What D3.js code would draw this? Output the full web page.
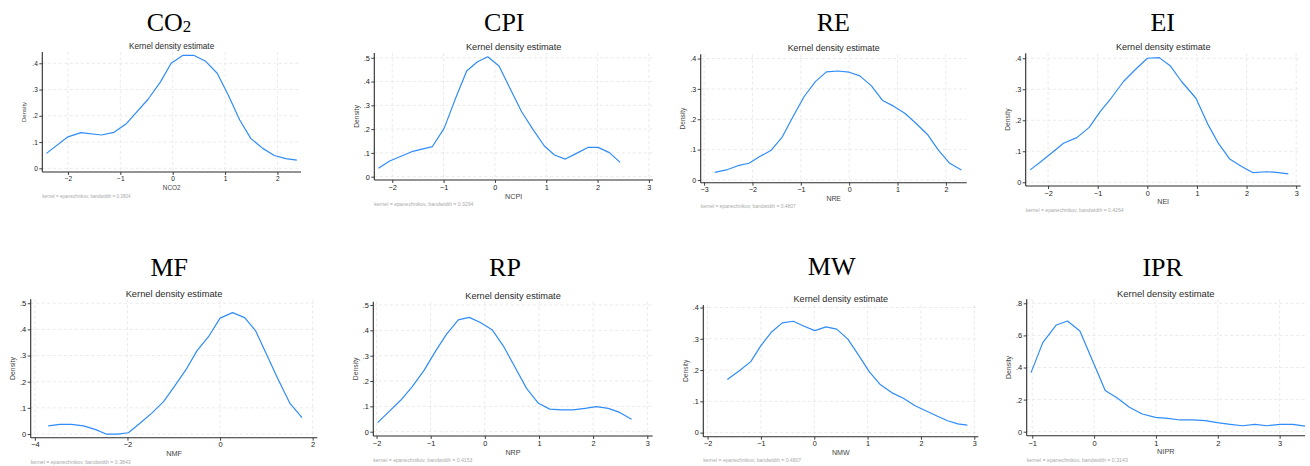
<!DOCTYPE html>
<html>
<head>
<meta charset="utf-8">
<script src="https://cdn.jsdelivr.net/npm/d3@7"></script>
<style>
  body { margin: 0; background: #fff; }
  svg { display: block; }
</style>
</head>
<body>
<div id="vis"></div>
<script>
const width = 1310;
const height = 466;

// panel names, variable names, kernel bandwidths
const titles = ["CO2", "CPI", "RE", "EI", "MF", "RP", "MW", "IPR"];
const varNames = ["NCO2", "NCPI", "NRE", "NEI", "NMF", "NRP", "NMW", "NIPR"];
const bandwidths = ["0.3824", "0.3294", "0.4807", "0.4264", "0.3843", "0.4153", "0.4807", "0.3143"];

// tick values
const xTicks = [
  [-2, -1, 0, 1, 2],
  [-2, -1, 0, 1, 2, 3],
  [-3, -2, -1, 0, 1, 2],
  [-2, -1, 0, 1, 2, 3],
  [-4, -2, 0, 2],
  [-2, -1, 0, 1, 2, 3],
  [-2, -1, 0, 1, 2, 3],
  [-1, 0, 1, 2, 3]
];
const yTicks = [
  [0, .1, .2, .3, .4],
  [0, .1, .2, .3, .4, .5],
  [0, .1, .2, .3, .4],
  [0, .1, .2, .3, .4],
  [0, .1, .2, .3, .4, .5],
  [0, .1, .2, .3, .4, .5],
  [0, .1, .2, .3, .4],
  [0, .2, .4, .6, .8]
];

// density estimates
const co2X = [-2.41, -2.0, -1.75, -1.36, -1.12, -0.88, -0.47, -0.23, -0.03, 0.19, 0.41, 0.62, 0.85, 1.06, 1.28, 1.49, 1.72, 1.94, 2.16, 2.37];
const co2Y = [0.057, 0.12, 0.136, 0.127, 0.137, 0.171, 0.263, 0.33, 0.40, 0.43, 0.43, 0.409, 0.362, 0.279, 0.184, 0.114, 0.076, 0.049, 0.037, 0.031];

const cpiX = [-2.27, -2.05, -1.62, -1.22, -0.99, -0.78, -0.55, -0.34, -0.14, 0.08, 0.31, 0.52, 0.75, 0.96, 1.16, 1.37, 1.59, 1.81, 2.01, 2.23, 2.44];
const cpiY = [0.035, 0.066, 0.105, 0.126, 0.203, 0.322, 0.444, 0.483, 0.504, 0.465, 0.364, 0.273, 0.196, 0.130, 0.091, 0.074, 0.098, 0.123, 0.123, 0.101, 0.060];

const reX = [-2.78, -2.54, -2.30, -2.07, -1.85, -1.62, -1.39, -1.16, -0.93, -0.70, -0.47, -0.23, 0.0, 0.22, 0.46, 0.69, 0.91, 1.15, 1.38, 1.63, 1.84, 2.08, 2.32];
const reY = [0.025, 0.033, 0.047, 0.055, 0.077, 0.097, 0.140, 0.209, 0.275, 0.324, 0.356, 0.359, 0.355, 0.343, 0.310, 0.262, 0.244, 0.220, 0.187, 0.148, 0.099, 0.055, 0.033];

const eiX = [-2.36, -2.14, -1.91, -1.69, -1.42, -1.17, -0.95, -0.73, -0.48, -0.25, 0.0, 0.24, 0.46, 0.69, 0.98, 1.21, 1.43, 1.66, 1.90, 2.13, 2.40, 2.60, 2.84];
const eiY = [0.040, 0.067, 0.097, 0.126, 0.144, 0.177, 0.228, 0.271, 0.325, 0.362, 0.400, 0.402, 0.376, 0.325, 0.271, 0.190, 0.126, 0.075, 0.051, 0.031, 0.034, 0.032, 0.027];

const mfX = [-3.71, -3.46, -3.21, -2.95, -2.70, -2.46, -2.22, -1.98, -1.73, -1.48, -1.22, -0.99, -0.74, -0.50, -0.25, 0.0, 0.27, 0.53, 0.77, 1.01, 1.26, 1.51, 1.77];
const mfY = [0.031, 0.037, 0.037, 0.031, 0.018, 0.0, 0.0, 0.005, 0.041, 0.079, 0.124, 0.181, 0.245, 0.318, 0.372, 0.443, 0.464, 0.445, 0.394, 0.302, 0.207, 0.117, 0.063];

const rpX = [-1.98, -1.77, -1.55, -1.34, -1.12, -0.91, -0.71, -0.49, -0.29, -0.09, 0.14, 0.34, 0.55, 0.77, 0.99, 1.20, 1.42, 1.63, 1.85, 2.06, 2.28, 2.49, 2.71];
const rpY = [0.036, 0.079, 0.125, 0.178, 0.243, 0.318, 0.384, 0.441, 0.451, 0.432, 0.401, 0.339, 0.257, 0.171, 0.112, 0.089, 0.086, 0.086, 0.092, 0.099, 0.092, 0.076, 0.049];

const mwX = [-1.63, -1.41, -1.19, -1.0, -0.81, -0.60, -0.39, -0.19, 0.01, 0.22, 0.42, 0.63, 0.83, 1.03, 1.23, 1.45, 1.67, 1.89, 2.09, 2.29, 2.50, 2.69, 2.87];
const mwY = [0.170, 0.197, 0.227, 0.278, 0.320, 0.351, 0.356, 0.340, 0.326, 0.338, 0.331, 0.299, 0.248, 0.195, 0.155, 0.128, 0.110, 0.086, 0.070, 0.054, 0.038, 0.028, 0.024];

const iprX = [-1.02, -0.83, -0.61, -0.43, -0.23, -0.02, 0.18, 0.38, 0.57, 0.78, 0.99, 1.19, 1.39, 1.59, 1.80, 1.99, 2.20, 2.40, 2.60, 2.80, 3.01, 3.21, 3.41];
const iprY = [0.368, 0.555, 0.665, 0.690, 0.628, 0.437, 0.256, 0.208, 0.152, 0.110, 0.089, 0.083, 0.073, 0.073, 0.069, 0.056, 0.046, 0.037, 0.046, 0.037, 0.046, 0.046, 0.035];

const seriesX = [co2X, cpiX, reX, eiX, mfX, rpX, mwX, iprX];
const seriesY = [co2Y, cpiY, reY, eiY, mfY, rpY, mwY, iprY];

// panel layout: plot box in px, axis ranges, base font size, title centre
const panels = [
  { l: 42.3, r: 301, t: 52, b: 172, xd: [-2.49, 2.45], yd: [-0.014, 0.443], f: 8.2, tx: 169, ty: 30.7 },
  { l: 374.3, r: 653, t: 53, b: 180, xd: [-2.35, 3.08], yd: [-0.014, 0.52], f: 9.2, tx: 504.3, ty: 30.7 },
  { l: 700.7, r: 966.7, t: 54.3, b: 182.7, xd: [-3.07, 2.43], yd: [-0.009, 0.414], f: 8.85, tx: 833.3, ty: 31 },
  { l: 1025.7, r: 1300.7, t: 53.3, b: 186, xd: [-2.45, 3.09], yd: [-0.012, 0.416], f: 9.1, tx: 1162.7, ty: 30.7 },
  { l: 30.7, r: 317.3, t: 299.3, b: 437.7, xd: [-4.09, 2.10], yd: [-0.014, 0.515], f: 9.3, tx: 169.3, ty: 275.7 },
  { l: 373.3, r: 652.7, t: 301.7, b: 436, xd: [-2.06, 3.10], yd: [-0.017, 0.513], f: 9.2, tx: 505, ty: 275.7 },
  { l: 703.3, r: 978.3, t: 305, b: 436.7, xd: [-2.08, 3.075], yd: [-0.013, 0.408], f: 9.1, tx: 831.7, ty: 275 },
  { l: 1026.7, r: 1305, t: 299.3, b: 435.7, xd: [-1.09, 3.41], yd: [-0.025, 0.825], f: 9.4, tx: 1162.7, ty: 275.7 }
];

const lineColor = "#2f8cf8";
const axisColor = "#2b2b2b";
const gridColor = "#e4e4e4";
const sans = "'Liberation Sans', Arial, sans-serif";
const serif = "'Liberation Serif', 'Times New Roman', serif";

// stata style labels: .4 instead of 0.4
function fmtY(d) {
  if (d === 0) return "0";
  return d3.format(".1f")(d).replace(/^0\./, ".").replace("-0.", "-.");
}

window.onload = function () {
  const svg = d3.select("#vis").append("svg")
    .attr("width", width)
    .attr("height", height);

  svg.append("rect").attr("width", width).attr("height", height).attr("fill", "#fff");

  panels.forEach((p, i) => drawPanel(svg, p, i));
};

function drawPanel(svg, p, i) {
  const g = svg.append("g");
  const x = d3.scaleLinear().domain(p.xd).range([p.l, p.r]);
  const y = d3.scaleLinear().domain(p.yd).range([p.b, p.t]);
  const cx = (p.l + p.r) / 2;

  // big serif title
  const title = g.append("text")
    .attr("x", p.tx).attr("y", p.ty)
    .attr("text-anchor", "middle")
    .style("font-family", serif)
    .style("font-size", "26px")
    .attr("fill", "#000");
  if (titles[i] === "CO2") {
    title.append("tspan").text("CO");
    title.append("tspan").text("2").attr("dy", 1.5).style("font-size", "17px");
  } else {
    title.text(titles[i]);
  }

  // subtitle
  g.append("text")
    .attr("x", cx).attr("y", p.t - 6 + p.f * 0.35)
    .attr("text-anchor", "middle")
    .style("font-family", sans)
    .style("font-size", p.f + "px")
    .attr("fill", "#2a2a2a")
    .text("Kernel density estimate");

  // grid
  g.selectAll(".gx").data(xTicks[i]).enter().append("line")
    .attr("x1", d => x(d)).attr("x2", d => x(d))
    .attr("y1", p.t).attr("y2", p.b)
    .attr("stroke", gridColor).attr("stroke-width", 0.8)
    .attr("stroke-dasharray", "3,2.5");
  g.selectAll(".gy").data(yTicks[i]).enter().append("line")
    .attr("x1", p.l).attr("x2", p.r)
    .attr("y1", d => y(d)).attr("y2", d => y(d))
    .attr("stroke", gridColor).attr("stroke-width", 0.8)
    .attr("stroke-dasharray", "3,2.5");

  // axes
  const tickFont = (p.f * 0.8) + "px";
  const xAxis = d3.axisBottom(x).tickValues(xTicks[i]).tickSize(3).tickPadding(1.5)
    .tickFormat(d3.format("d"));
  const yAxis = d3.axisLeft(y).tickValues(yTicks[i]).tickSize(3).tickPadding(1.5)
    .tickFormat(fmtY);

  const gx = g.append("g").attr("transform", `translate(0,${p.b})`).call(xAxis);
  const gy = g.append("g").attr("transform", `translate(${p.l},0)`).call(yAxis);
  [gx, gy].forEach(a => {
    a.select(".domain").attr("stroke", axisColor).attr("stroke-width", 1.1);
    a.selectAll(".tick line").attr("stroke", axisColor).attr("stroke-width", 0.9);
    a.selectAll(".tick text").attr("fill", "#222")
      .style("font-family", sans).style("font-size", tickFont);
  });
  // plain lines without the end caps d3 draws
  gx.select(".domain").attr("d", `M${p.l},0H${p.r}`);
  gy.select(".domain").attr("d", `M0,${p.t}V${p.b}`);

  // density curve
  const pts = seriesX[i].map((v, k) => [v, seriesY[i][k]]);
  const line = d3.line().x(d => x(d[0])).y(d => y(d[1]));
  g.append("path")
    .datum(pts)
    .attr("d", line)
    .attr("fill", "none")
    .attr("stroke", lineColor)
    .attr("stroke-width", 1.2)
    .attr("stroke-linejoin", "round");

  // axis titles
  g.append("text")
    .attr("transform", `translate(${p.l - 18},${(p.t + p.b) / 2}) rotate(-90)`)
    .attr("text-anchor", "middle")
    .attr("dy", "0.35em")
    .style("font-family", sans)
    .style("font-size", (p.f * 0.74) + "px")
    .attr("fill", "#444")
    .text("Density");

  g.append("text")
    .attr("x", cx).attr("y", p.b + 16)
    .attr("text-anchor", "middle")
    .attr("dy", "0.35em")
    .style("font-family", sans)
    .style("font-size", (p.f * 0.78) + "px")
    .attr("fill", "#444")
    .text(varNames[i]);

  // note
  g.append("text")
    .attr("x", p.l).attr("y", p.b + 24)
    .attr("dy", "0.35em")
    .style("font-family", sans)
    .style("font-size", (p.f * 0.56) + "px")
    .attr("fill", "#aaa")
    .text("kernel = epanechnikov, bandwidth = " + bandwidths[i]);
}
</script>
</body>
</html>
